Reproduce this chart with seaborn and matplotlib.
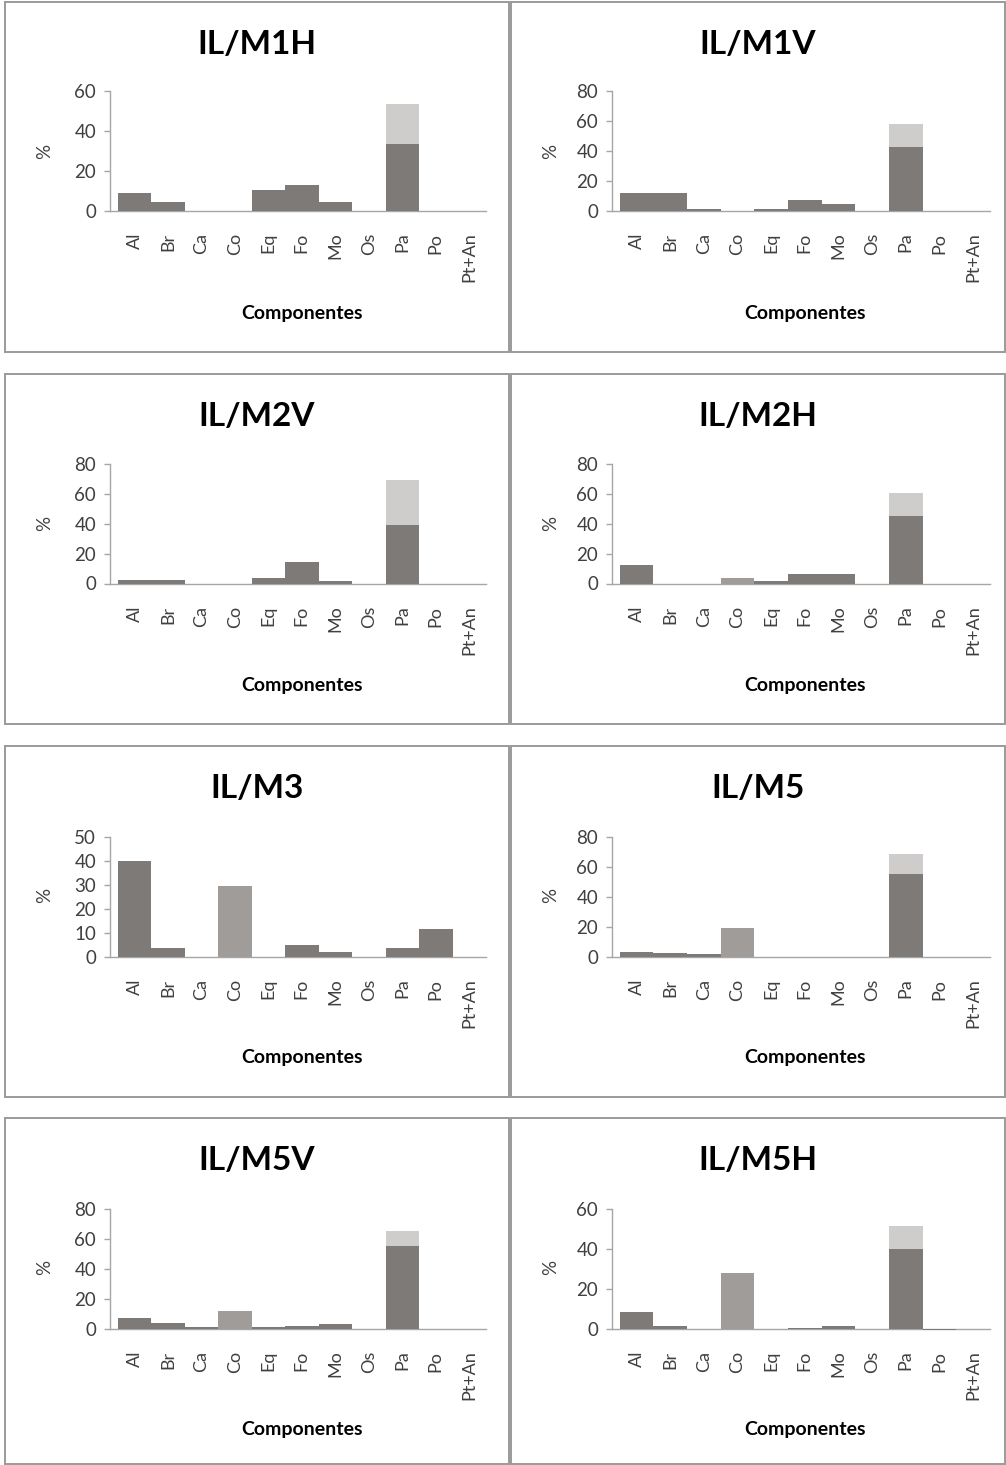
import matplotlib
matplotlib.use("Agg")
import matplotlib.pyplot as plt
import seaborn as sns
import pandas as pd
from matplotlib.patches import Rectangle

# Components on the x axis
componentes = ["Al", "Br", "Ca", "Co", "Eq", "Fo", "Mo", "Os", "Pa", "Po", "Pt+An"]

titulos = ["IL/M1H", "IL/M1V", "IL/M2V", "IL/M2H", "IL/M3", "IL/M5", "IL/M5V", "IL/M5H"]

# Percentages per component (lower segment)
m1h = [9.0, 4.5, 0, 0, 10.2, 12.6, 4.4, 0, 33.3, 0, 0]
m1v = [11.6, 11.6, 0.7, 0, 1.3, 6.9, 4.2, 0, 42.3, 0, 0]
m2v = [2.2, 2.2, 0, 0, 3.6, 14.5, 1.6, 0, 39.3, 0, 0]
m2h = [12.5, 0, 0, 4.0, 1.8, 6.3, 6.3, 0, 45.4, 0, 0]
m3 = [39.8, 3.5, 0, 29.4, 0, 4.7, 1.7, 0, 3.5, 11.4, 0]
m5 = [3.3, 2.2, 1.6, 18.9, 0, 0, 0, 0, 55.5, 0, 0]
m5v = [6.7, 3.6, 0.7, 11.6, 1.3, 2.0, 2.9, 0, 55.0, 0, 0]
m5h = [8.2, 1.5, 0, 27.8, 0, 0.5, 1.5, 0, 39.9, -0.8, 0]

# Total height of the stacked Pa bar (upper light segment reaches this value)
pa_total = [53.3, 58.1, 69.5, 60.3, 3.5, 68.4, 65.5, 51.4]

series = [m1h, m1v, m2v, m2h, m3, m5, m5v, m5h]

# y axis maximum and tick step per panel
y_max = [60, 80, 80, 80, 50, 80, 80, 60]
y_step = [20, 20, 20, 20, 10, 20, 20, 20]

dark = "#7e7a78"
medium = "#a09c9a"
light = "#cfcdcb"
paleta = {c: (medium if c == "Co" else dark) for c in componentes}

sns.set_style("white")
plt.rcParams["font.family"] = ["Lato", "DejaVu Sans"]

W, H = 1006, 1465
fig = plt.figure(figsize=(W / 100, H / 100), dpi=100)

zero_y = [210.5, 583.5, 956.5, 1328.5]
top_y = [91, 464, 837, 1209]
ax_left = [110, 612]
ax_right = [486, 990]
box_x = [(5, 509), (511, 1005)]
box_y = [(2, 352), (374, 724), (746, 1097), (1118, 1464)]

for i, (titulo, vals) in enumerate(zip(titulos, series)):
    row, col = divmod(i, 2)
    # panel frame
    bx0, bx1 = box_x[col]
    by0, by1 = box_y[row]
    fig.add_artist(Rectangle((bx0 / W, 1 - by1 / H), (bx1 - bx0) / W, (by1 - by0) / H,
                             transform=fig.transFigure, fill=False,
                             edgecolor="#9a9a9a", linewidth=1.4))

    x0, x1 = ax_left[col], ax_right[col]
    ax = fig.add_axes([x0 / W, 1 - zero_y[row] / H, (x1 - x0) / W,
                       (zero_y[row] - top_y[row]) / H])

    total = [pa_total[i] if c == "Pa" else v for c, v in zip(componentes, vals)]
    df = pd.DataFrame({"comp": componentes, "base": vals, "total": total})

    sns.barplot(data=df, x="comp", y="total", order=componentes, color=light,
                saturation=1, width=1.0, linewidth=0, ax=ax)
    sns.barplot(data=df, x="comp", y="base", order=componentes, hue="comp",
                hue_order=componentes, palette=paleta, saturation=1, width=1.0,
                linewidth=0, legend=False, ax=ax)
    for p in ax.patches:
        p.set_clip_on(False)
        p.set_zorder(3)

    ax.set_xlim(-0.73, 10.5)
    ax.set_ylim(0, y_max[i])
    ax.set_yticks(range(0, y_max[i] + 1, y_step[i]))
    ax.set_xlabel("")
    ax.set_ylabel("")
    for s in ("top", "right"):
        ax.spines[s].set_visible(False)
    for s in ("left", "bottom"):
        ax.spines[s].set_color("#a6a6a6")
        ax.spines[s].set_linewidth(1.0)
    ax.tick_params(axis="y", left=True, length=4, width=1, color="#a6a6a6",
                   pad=6, labelsize=13.5, labelcolor="#404040")
    ax.tick_params(axis="x", bottom=False, length=0, pad=16, labelsize=13,
                   labelcolor="#404040", rotation=90)
    for lab in ax.get_xticklabels():
        lab.set_verticalalignment("top")

    cx = (bx0 + bx1) / 2
    fig.text(cx / W, 1 - (by0 + 42) / H, titulo, ha="center", va="center",
             fontsize=24, fontweight="bold", color="black")
    fig.text((bx0 + 40) / W, 1 - (by0 + 149) / H, "%", ha="center", va="center",
             rotation=90, fontsize=13.5, color="#404040")
    fig.text(((x0 + x1) / 2 + 4) / W, 1 - (by0 + 311) / H, "Componentes",
             ha="center", va="center", fontsize=14, fontweight="bold",
             color="black")

fig.savefig("out.png", dpi=100)
